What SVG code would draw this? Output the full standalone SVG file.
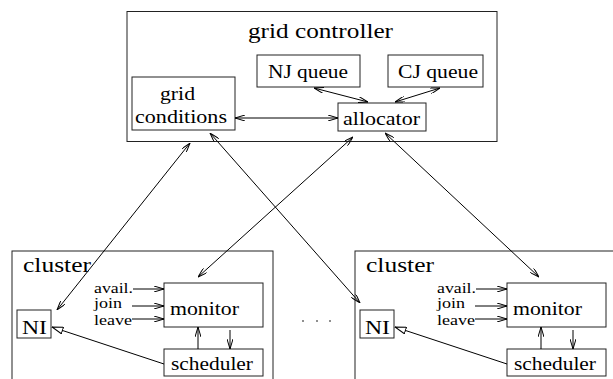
<svg xmlns="http://www.w3.org/2000/svg" width="613" height="379" viewBox="0 0 613 379">
<style>
.box{fill:none;stroke:#222;stroke-width:1}
.ln{fill:none;stroke:#000;stroke-width:1}
.a2{marker-start:url(#v);marker-end:url(#v)}
.a1{marker-end:url(#v)}
</style>
<defs>
<marker id="v" viewBox="0 0 10 6" refX="10" refY="3" markerWidth="10" markerHeight="6" markerUnits="userSpaceOnUse" orient="auto-start-reverse">
<path d="M0,0 L10,3 L0,6" fill="none" stroke="#000" stroke-width="1"/>
</marker>
<marker id="tri" viewBox="0 0 12 8" refX="11.5" refY="4" markerWidth="12" markerHeight="8" markerUnits="userSpaceOnUse" orient="auto">
<path d="M0.5,0.5 L11.5,4 L0.5,7.5 Z" fill="#fff" stroke="#000" stroke-width="1"/>
</marker>
</defs>
<rect width="613" height="379" fill="#fff"/>

<g id="grid-controller">
<rect class="box" x="127" y="11.5" width="370" height="130"/>
<text x="248" y="38" font-family="Liberation Serif" font-size="20" textLength="145" lengthAdjust="spacingAndGlyphs">grid controller</text>
</g>
<g id="nj-queue">
<rect class="box" x="257" y="55" width="103" height="32"/>
<text x="268" y="78" font-family="Liberation Serif" font-size="18" textLength="80" lengthAdjust="spacingAndGlyphs">NJ queue</text>
</g>
<g id="cj-queue">
<rect class="box" x="388" y="55" width="95" height="32"/>
<text x="398" y="78" font-family="Liberation Serif" font-size="18" textLength="80" lengthAdjust="spacingAndGlyphs">CJ queue</text>
</g>
<g id="grid-conditions">
<rect class="box" x="132" y="77" width="103" height="53"/>
<text x="160" y="100" font-family="Liberation Serif" font-size="18" textLength="35" lengthAdjust="spacingAndGlyphs">grid</text>
<text x="135" y="123" font-family="Liberation Serif" font-size="18" textLength="92" lengthAdjust="spacingAndGlyphs">conditions</text>
</g>
<g id="allocator">
<rect class="box" x="338" y="103" width="88" height="28"/>
<text x="343" y="125" font-family="Liberation Serif" font-size="18" textLength="77" lengthAdjust="spacingAndGlyphs">allocator</text>
</g>

<g id="cluster1">
<rect class="box" x="12" y="251" width="261" height="140"/>
<text x="23" y="272" font-family="Liberation Serif" font-size="20" textLength="68" lengthAdjust="spacingAndGlyphs">cluster</text>
</g>
<g id="ni1">
<rect class="box" x="17" y="310" width="34" height="28"/>
<text x="22" y="334" font-family="Liberation Serif" font-size="18" textLength="25" lengthAdjust="spacingAndGlyphs">NI</text>
</g>
<g id="monitor1">
<rect class="box" x="164" y="283" width="99" height="44"/>
<text x="170" y="315" font-family="Liberation Serif" font-size="18" textLength="69" lengthAdjust="spacingAndGlyphs">monitor</text>
</g>
<g id="scheduler1">
<rect class="box" x="164" y="349" width="99" height="27"/>
<text x="171" y="370" font-family="Liberation Serif" font-size="18" textLength="82" lengthAdjust="spacingAndGlyphs">scheduler</text>
</g>
<g id="inputs1">
<text x="94" y="293" font-family="Liberation Serif" font-size="14" textLength="39" lengthAdjust="spacingAndGlyphs">avail.</text>
<text x="94" y="308" font-family="Liberation Serif" font-size="14" textLength="28" lengthAdjust="spacingAndGlyphs">join</text>
<text x="94" y="325" font-family="Liberation Serif" font-size="14" textLength="38" lengthAdjust="spacingAndGlyphs">leave</text>
</g>

<g id="cluster2">
<rect class="box" x="355" y="251" width="270" height="140"/>
<text x="366" y="272" font-family="Liberation Serif" font-size="20" textLength="68" lengthAdjust="spacingAndGlyphs">cluster</text>
</g>
<g id="ni2">
<rect class="box" x="360" y="310" width="34" height="28"/>
<text x="365" y="334" font-family="Liberation Serif" font-size="18" textLength="25" lengthAdjust="spacingAndGlyphs">NI</text>
</g>
<g id="monitor2">
<rect class="box" x="507" y="283" width="99" height="44"/>
<text x="513" y="315" font-family="Liberation Serif" font-size="18" textLength="69" lengthAdjust="spacingAndGlyphs">monitor</text>
</g>
<g id="scheduler2">
<rect class="box" x="507" y="349" width="99" height="27"/>
<text x="514" y="370" font-family="Liberation Serif" font-size="18" textLength="82" lengthAdjust="spacingAndGlyphs">scheduler</text>
</g>
<g id="inputs2">
<text x="437" y="293" font-family="Liberation Serif" font-size="14" textLength="39" lengthAdjust="spacingAndGlyphs">avail.</text>
<text x="437" y="308" font-family="Liberation Serif" font-size="14" textLength="28" lengthAdjust="spacingAndGlyphs">join</text>
<text x="437" y="325" font-family="Liberation Serif" font-size="14" textLength="38" lengthAdjust="spacingAndGlyphs">leave</text>
</g>

<g id="ellipsis">
<circle cx="303" cy="321" r="0.8" fill="#000"/>
<circle cx="317" cy="321" r="0.8" fill="#000"/>
<circle cx="330" cy="321" r="0.8" fill="#000"/>
</g>

<g id="connectors">
<line class="ln a2" x1="235" y1="118" x2="338" y2="118"/>
<line class="ln a2" x1="314" y1="88" x2="368" y2="102"/>
<line class="ln a2" x1="440" y1="88" x2="395" y2="102"/>
<line class="ln a2" x1="57" y1="310" x2="190" y2="143"/>
<line class="ln a2" x1="210" y1="133" x2="360" y2="303"/>
<line class="ln a2" x1="353" y1="137" x2="198" y2="277"/>
<line class="ln a2" x1="385" y1="133" x2="539" y2="277"/>
<line class="ln a1" x1="133" y1="289" x2="164" y2="289"/>
<line class="ln a1" x1="132" y1="306" x2="164" y2="306"/>
<line class="ln a1" x1="132" y1="319" x2="164" y2="319"/>
<line class="ln a1" x1="198" y1="349" x2="198" y2="327"/>
<line class="ln a1" x1="230" y1="330" x2="230" y2="349"/>
<line class="ln" x1="164" y1="364" x2="52" y2="327" marker-end="url(#tri)"/>
<line class="ln a1" x1="476" y1="289" x2="507" y2="289"/>
<line class="ln a1" x1="475" y1="306" x2="507" y2="306"/>
<line class="ln a1" x1="475" y1="319" x2="507" y2="319"/>
<line class="ln a1" x1="541" y1="349" x2="541" y2="327"/>
<line class="ln a1" x1="573" y1="330" x2="573" y2="349"/>
<line class="ln" x1="507" y1="364" x2="395" y2="327" marker-end="url(#tri)"/>
</g>
</svg>
